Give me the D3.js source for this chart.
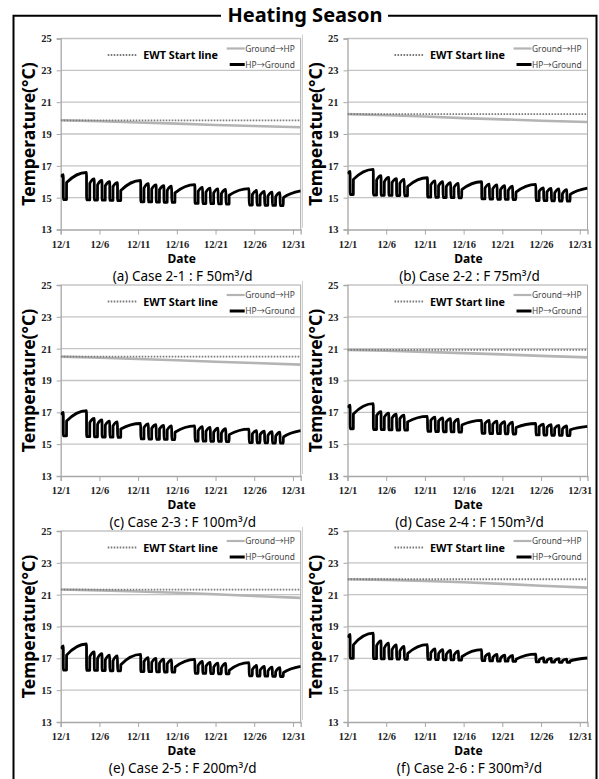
<!DOCTYPE html>
<html>
<head>
<meta charset="utf-8">
<script src="https://cdn.jsdelivr.net/npm/d3@7"></script>
<style>
  body { margin: 0; background: #fff; }
  text { font-family: "Noto Sans", "Noto Sans CJK KR", sans-serif; }
  .tick text { font-family: "Liberation Serif", serif; }
</style>
</head>
<body>
<div id="chart"></div>
<script>
// ---- data ----
var tickDays = [0, 5, 10, 15, 20, 25, 30];
var tickLabels = ["12/1", "12/6", "12/11", "12/16", "12/21", "12/26", "12/31"];
var yTicks = [13, 15, 17, 19, 21, 23, 25];
var captions = ["(a) Case 2-1 : F 50m³/d", "(b) Case 2-2 : F 75m³/d", "(c) Case 2-3 : F 100m³/d",
                "(d) Case 2-4 : F 150m³/d", "(e) Case 2-5 : F 200m³/d", "(f) Case 2-6 : F 300m³/d"];

// EWT start line per case
var ewt = [19.86, 20.25, 20.5, 20.92, 21.32, 21.97];

// Ground->HP (gray) readings
var groundDays = [0, 5, 10, 15, 20, 25, 31];
var groundA = [19.86, 19.80, 19.72, 19.65, 19.57, 19.50, 19.42];
var groundB = [20.25, 20.18, 20.10, 20.00, 19.92, 19.83, 19.75];
var groundC = [20.50, 20.43, 20.35, 20.27, 20.18, 20.10, 20.00];
var groundD = [20.92, 20.87, 20.80, 20.72, 20.64, 20.55, 20.45];
var groundE = [21.32, 21.27, 21.20, 21.12, 21.03, 20.92, 20.80];
var groundF = [21.97, 21.93, 21.86, 21.78, 21.68, 21.56, 21.44];

// HP->Ground (black): operating days (08:00-18:00), days after 12/1
var opDays = [0, 3, 4, 5, 6, 7, 10, 11, 12, 13, 14, 17, 18, 19, 20, 21, 24, 25, 26, 27, 28];
var onHour = 8, offHour = 18;

// start value / value at first start-up
var startA = [16.30, 16.45];
var lowA  = [14.88, 14.86, 14.85, 14.84, 14.83, 14.82, 14.74, 14.73, 14.72, 14.71, 14.70, 14.64, 14.63, 14.62, 14.61, 14.60, 14.54, 14.53, 14.52, 14.51, 14.50];
var jumpA = [15.95, 15.90, 15.80, 15.75, 15.70, 15.45, 15.60, 15.55, 15.50, 15.45, 15.30, 15.40, 15.35, 15.30, 15.25, 15.15, 15.20, 15.15, 15.10, 15.05, 15.00];
var peakA = [16.58, 16.18, 16.08, 16.00, 15.95, 16.08, 15.88, 15.80, 15.75, 15.72, 15.82, 15.65, 15.60, 15.55, 15.52, 15.57, 15.45, 15.40, 15.35, 15.32, 15.42];

var startB = [16.50, 16.65];
var lowB  = [15.20, 15.16, 15.15, 15.14, 15.13, 15.12, 15.03, 15.02, 15.01, 15.00, 14.99, 14.92, 14.91, 14.90, 14.89, 14.88, 14.82, 14.81, 14.80, 14.79, 14.78];
var jumpB = [16.15, 16.10, 16.00, 15.95, 15.90, 15.70, 15.80, 15.75, 15.70, 15.65, 15.50, 15.60, 15.55, 15.50, 15.45, 15.35, 15.40, 15.35, 15.30, 15.25, 15.20];
var peakB = [16.78, 16.38, 16.28, 16.20, 16.15, 16.25, 16.05, 16.00, 15.95, 15.90, 16.00, 15.85, 15.80, 15.75, 15.72, 15.84, 15.62, 15.58, 15.55, 15.50, 15.60];

var startC = [16.85, 17.00];
var lowC  = [15.52, 15.47, 15.46, 15.45, 15.44, 15.43, 15.33, 15.32, 15.31, 15.30, 15.29, 15.20, 15.19, 15.18, 15.17, 15.16, 15.10, 15.09, 15.08, 15.07, 15.06];
var jumpC = [16.45, 16.35, 16.25, 16.20, 16.15, 15.95, 16.05, 16.00, 15.95, 15.90, 15.75, 15.85, 15.80, 15.75, 15.70, 15.60, 15.65, 15.60, 15.55, 15.50, 15.45];
var peakC = [17.10, 16.62, 16.52, 16.45, 16.40, 16.30, 16.28, 16.22, 16.18, 16.15, 16.15, 16.10, 16.05, 16.00, 15.97, 15.95, 15.85, 15.82, 15.78, 15.75, 15.85];

var startD = [17.30, 17.45];
var lowD  = [15.97, 15.92, 15.91, 15.90, 15.89, 15.88, 15.80, 15.79, 15.78, 15.77, 15.76, 15.68, 15.67, 15.66, 15.65, 15.64, 15.58, 15.57, 15.56, 15.55, 15.54];
var jumpD = [16.90, 16.80, 16.70, 16.65, 16.60, 16.40, 16.50, 16.45, 16.40, 16.35, 16.20, 16.30, 16.25, 16.20, 16.15, 16.05, 16.10, 16.05, 16.00, 15.95, 15.90];
var peakD = [17.55, 17.05, 16.95, 16.88, 16.82, 16.75, 16.70, 16.65, 16.60, 16.57, 16.50, 16.50, 16.45, 16.42, 16.38, 16.30, 16.25, 16.22, 16.18, 16.15, 16.12];

var startE = [17.60, 17.78];
var lowE  = [16.26, 16.25, 16.24, 16.23, 16.22, 16.21, 16.17, 16.16, 16.15, 16.14, 16.13, 16.06, 16.05, 16.04, 16.03, 16.02, 15.90, 15.89, 15.88, 15.87, 15.86];
var jumpE = [17.20, 17.10, 17.00, 16.90, 16.85, 16.60, 16.80, 16.75, 16.70, 16.65, 16.45, 16.55, 16.50, 16.45, 16.40, 16.25, 16.30, 16.25, 16.20, 16.15, 16.10];
var peakE = [17.90, 17.40, 17.30, 17.20, 17.15, 17.25, 17.05, 17.00, 16.95, 16.90, 16.94, 16.80, 16.75, 16.70, 16.68, 16.73, 16.55, 16.50, 16.45, 16.42, 16.50];

var startF = [18.30, 18.50];
var lowF  = [17.00, 16.98, 16.97, 16.96, 16.95, 16.94, 16.93, 16.92, 16.91, 16.90, 16.89, 16.85, 16.84, 16.83, 16.82, 16.81, 16.78, 16.77, 16.76, 16.75, 16.74];
var jumpF = [17.85, 17.80, 17.65, 17.55, 17.45, 17.30, 17.35, 17.30, 17.25, 17.20, 17.10, 17.10, 17.05, 17.00, 16.98, 16.95, 16.90, 16.88, 16.86, 16.85, 16.84];
var peakF = [18.58, 18.10, 17.95, 17.85, 17.75, 17.86, 17.60, 17.55, 17.50, 17.45, 17.55, 17.30, 17.25, 17.20, 17.18, 17.27, 17.05, 17.00, 16.98, 16.95, 17.02];

var panels = [
  {ground: groundA, start: startA, low: lowA, jump: jumpA, peak: peakA},
  {ground: groundB, start: startB, low: lowB, jump: jumpB, peak: peakB},
  {ground: groundC, start: startC, low: lowC, jump: jumpC, peak: peakC},
  {ground: groundD, start: startD, low: lowD, jump: jumpD, peak: peakD},
  {ground: groundE, start: startE, low: lowE, jump: jumpE, peak: peakE},
  {ground: groundF, start: startF, low: lowF, jump: jumpF, peak: peakF}
];

// ---- layout ----
var W = 599, H = 779;
var colX = [60.7, 347.5], rowY = [38.5, 285, 531];
var pw = 240, ph = 191;

var svg = d3.select("#chart").append("svg")
  .attr("width", W).attr("height", H);

// outer frame with title gap
var frame = svg.append("g").attr("stroke", "#000").attr("stroke-width", 2).attr("fill", "none");
frame.append("path").attr("d", "M221,15.8 H13.5 V790");
frame.append("path").attr("d", "M388,15.8 H596.5 V790");
svg.append("text")
  .attr("x", 305).attr("y", 22)
  .attr("text-anchor", "middle")
  .attr("font-size", "20px").attr("font-weight", "bold")
  .text("Heating Season");

// faint chart-area edge between the two columns
rowY.forEach(function(r) {
  svg.append("line").attr("x1", 302.5).attr("x2", 302.5).attr("y1", r - 4).attr("y2", r + ph - 2)
    .attr("stroke", "#cfcfcf").attr("stroke-width", 1);
});

var onFrac = onHour / 24, offFrac = offHour / 24, eps = 0.01;

function hpPoints(p) {
  var pts = [[0, p.start[0]], [opDays[0] + onFrac, p.start[1]]];
  opDays.forEach(function(d, i) {
    var t0 = d + onFrac, t1 = d + offFrac;
    pts.push([t0 + eps, p.low[i]], [t1, p.low[i]], [t1 + eps, p.jump[i]]);
    var next = i + 1 < opDays.length ? opDays[i + 1] + onFrac : 31;
    pts.push([next, p.peak[i]]);
  });
  return pts;
}

panels.forEach(function(p, k) {
  var x0 = colX[k % 2], y0 = rowY[Math.floor(k / 2)];
  var x = d3.scaleLinear().domain([0, 31]).range([0, pw]);
  var y = d3.scaleLinear().domain([13, 25]).range([ph, 0]);

  var g = svg.append("g").attr("transform", "translate(" + x0 + "," + y0 + ")");

  g.append("clipPath").attr("id", "clip" + k)
    .append("rect").attr("width", pw).attr("height", ph);

  // gridlines
  g.selectAll(".grid").data(yTicks.slice(1)).enter().append("line")
    .attr("x1", 0).attr("x2", pw)
    .attr("y1", function(d) { return y(d); }).attr("y2", function(d) { return y(d); })
    .attr("stroke", "#c4c4c4").attr("stroke-width", 1.4);
  // right border
  g.append("line").attr("x1", pw).attr("x2", pw).attr("y1", 0).attr("y2", ph)
    .attr("stroke", "#a8a8a8").attr("stroke-width", 1);

  // axes
  var xAxis = g.append("g").attr("transform", "translate(0," + ph + ")")
    .call(d3.axisBottom(x).tickValues(tickDays).tickSize(5).tickPadding(6)
      .tickFormat(function(d, i) { return tickLabels[i]; }));
  var yAxis = g.append("g")
    .call(d3.axisLeft(y).tickValues(yTicks).tickSize(4).tickPadding(5));
  [xAxis, yAxis].forEach(function(a) {
    a.select(".domain").attr("stroke", "#a8a8a8").attr("stroke-width", 1.3);
    a.selectAll(".tick line").attr("stroke", "#a8a8a8");
    a.selectAll(".tick text").attr("font-size", "10.5px").attr("fill", "#222").attr("font-weight", "bold");
  });

  var line = d3.line()
    .x(function(d) { return x(d[0]); })
    .y(function(d) { return y(d[1]); });

  var plot = g.append("g").attr("clip-path", "url(#clip" + k + ")");

  // Ground->HP
  plot.append("path")
    .datum(groundDays.map(function(d, i) { return [d, p.ground[i]]; }))
    .attr("fill", "none").attr("stroke", "#b4b4b4").attr("stroke-width", 2.6)
    .attr("d", line);
  // EWT start line
  plot.append("path")
    .datum([[0, ewt[k]], [31, ewt[k]]])
    .attr("fill", "none").attr("stroke", "#7a7a7a").attr("stroke-width", 1.8)
    .attr("stroke-dasharray", "1.6,1.4")
    .attr("d", line);
  // HP->Ground
  plot.append("path")
    .datum(hpPoints(p))
    .attr("fill", "none").attr("stroke", "#000").attr("stroke-width", 2.8)
    .attr("stroke-linejoin", "round")
    .attr("d", line.curve(d3.curveMonotoneX));

  // legend
  var lg = g.append("g");
  lg.append("line").attr("x1", 47).attr("x2", 77).attr("y1", 16.5).attr("y2", 16.5)
    .attr("stroke", "#7a7a7a").attr("stroke-width", 1.8).attr("stroke-dasharray", "1.6,1.4");
  lg.append("text").attr("x", 82.5).attr("y", 20.8)
    .attr("font-size", "10.8px").attr("font-weight", "bold")
    .text("EWT Start line");
  lg.append("line").attr("x1", 166).attr("x2", 184).attr("y1", 10).attr("y2", 10)
    .attr("stroke", "#b4b4b4").attr("stroke-width", 2.2);
  lg.append("text").attr("x", 184.5).attr("y", 13)
    .attr("font-size", "8.4px").attr("fill", "#444")
    .text("Ground→HP");
  lg.append("line").attr("x1", 169).attr("x2", 184).attr("y1", 26).attr("y2", 26)
    .attr("stroke", "#000").attr("stroke-width", 3);
  lg.append("text").attr("x", 184.5).attr("y", 29)
    .attr("font-size", "8.4px").attr("fill", "#444")
    .text("HP→Ground");

  // y title
  g.append("text")
    .attr("transform", "translate(-33," + (ph / 2) + ") rotate(-90)")
    .attr("text-anchor", "middle").attr("dominant-baseline", "central")
    .attr("font-size", "17.5px").attr("font-weight", "bold")
    .text("Temperature(°C)");
  // x title and caption
  g.append("text").attr("x", 121).attr("y", ph + 33)
    .attr("text-anchor", "middle").attr("font-size", "12px").attr("font-weight", "bold")
    .text("Date");
  g.append("text").attr("x", 122).attr("y", ph + 51)
    .attr("text-anchor", "middle").attr("font-size", "13.5px")
    .text(captions[k]);
});
</script>
</body>
</html>
